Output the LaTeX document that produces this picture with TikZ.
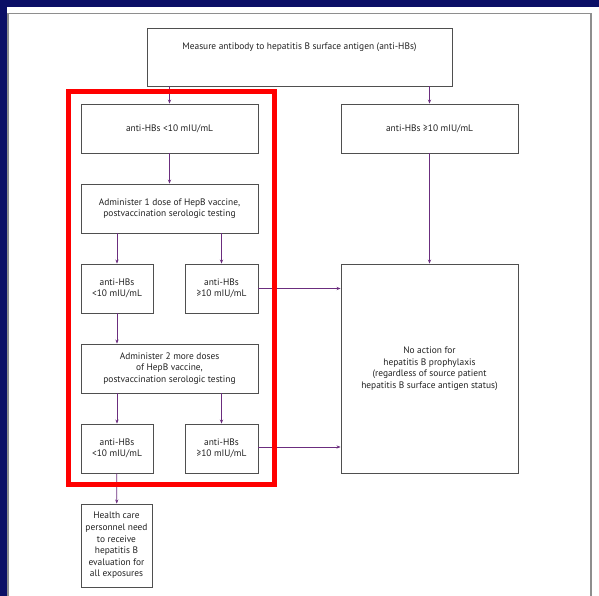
\documentclass[tikz,border=0pt]{standalone}
\usepackage{fontspec}
\setmainfont{PT Sans}
\usetikzlibrary{arrows.meta}
\definecolor{navy}{HTML}{0B0F66}
\definecolor{arrowpurple}{HTML}{6B2D7E}
\definecolor{boxgray}{HTML}{4F4F4F}
\definecolor{txtgray}{HTML}{222222}
\definecolor{framegray}{HTML}{8E8E8E}
\tikzset{
  box/.style={draw=boxgray, line width=0.9pt, inner sep=2pt, align=center,
    text=txtgray, font=\fontsize{9.4}{11.6}\selectfont, fill=white},
  flow/.style={draw=arrowpurple, line width=0.75pt, -{Stealth[length=4pt,width=3.2pt]}},
}
\begin{document}
\begin{tikzpicture}[x=1pt,y=-1pt]
\useasboundingbox (0,0) rectangle (599,596);
\fill[navy] (0,0) rectangle (599,596);
\fill[white] (7,7) rectangle (599,596);
\draw[framegray, line width=1.5pt] (8,600) -- (8,13.5) -- (591,13.5) -- (591,600);

% nodes
\node[box, minimum width=305pt, minimum height=58pt, text height=7pt, text depth=22pt] (top) at (299.5,57) {Measure antibody to hepatitis B surface antigen (anti-HBs)};
\node[box, minimum width=177pt, minimum height=49pt] (L1) at (169.5,128.5) {anti-HBs <10 mIU/mL};
\node[box, minimum width=177pt, minimum height=49pt] (L2) at (169.5,208.5) {Administer 1 dose of HepB vaccine,\\postvaccination serologic testing};
\node[box, minimum width=72pt, minimum height=49pt] (L3a) at (117,288.5) {anti-HBs\\<10 mIU/mL};
\node[box, minimum width=73pt, minimum height=49pt] (L3b) at (221.5,288.5) {anti-HBs\\≥10 mIU/mL};
\node[box, minimum width=177pt, minimum height=49pt] (L4) at (169.5,368.5) {Administer 2 more doses\\of HepB vaccine,\\postvaccination serologic testing};
\node[box, minimum width=72pt, minimum height=49pt] (L5a) at (117,448.5) {anti-HBs\\<10 mIU/mL};
\node[box, minimum width=73pt, minimum height=49pt] (L5b) at (221.5,448.5) {anti-HBs\\≥10 mIU/mL};
\node[box, minimum width=71pt, minimum height=83pt] (L6) at (116.5,545.5) {Health care\\personnel need\\to receive\\hepatitis B\\evaluation for\\all exposures};
\node[box, minimum width=177pt, minimum height=49pt] (R1) at (429.5,128.5) {anti-HBs ≥10 mIU/mL};
\node[box, minimum width=177pt, minimum height=209pt] (R2) at (429.5,368.5) {No action for\\hepatitis B prophylaxis\\(regardless of source patient\\hepatitis B surface antigen status)};

% connectors
\draw[flow] (L1.north |- top.south) -- (L1.north);
\draw[flow] (R1.north |- top.south) -- (R1.north);
\draw[flow] (L1) -- (L2);
\draw[flow] (L3a.north |- L2.south) -- (L3a.north);
\draw[flow] (L3b.north |- L2.south) -- (L3b.north);
\draw[flow] (L3a.south) -- (L3a.south |- L4.north);
\draw[flow] (L5a.north |- L4.south) -- (L5a.north);
\draw[flow] (L5b.north |- L4.south) -- (L5b.north);
\draw[flow] (L5a) -- (L6);
\draw[flow] (R1) -- (R2);
\draw[flow] (L3b.east) -- (L3b.east -| R2.west);
\draw[flow] ([yshift=1.5pt]L5b.east) -- ([yshift=1.5pt]L5b.east -| R2.west);

% highlight frame
\draw[red, line width=5pt] (68.5,91.5) rectangle (274.5,484.5);
\end{tikzpicture}
\end{document}
